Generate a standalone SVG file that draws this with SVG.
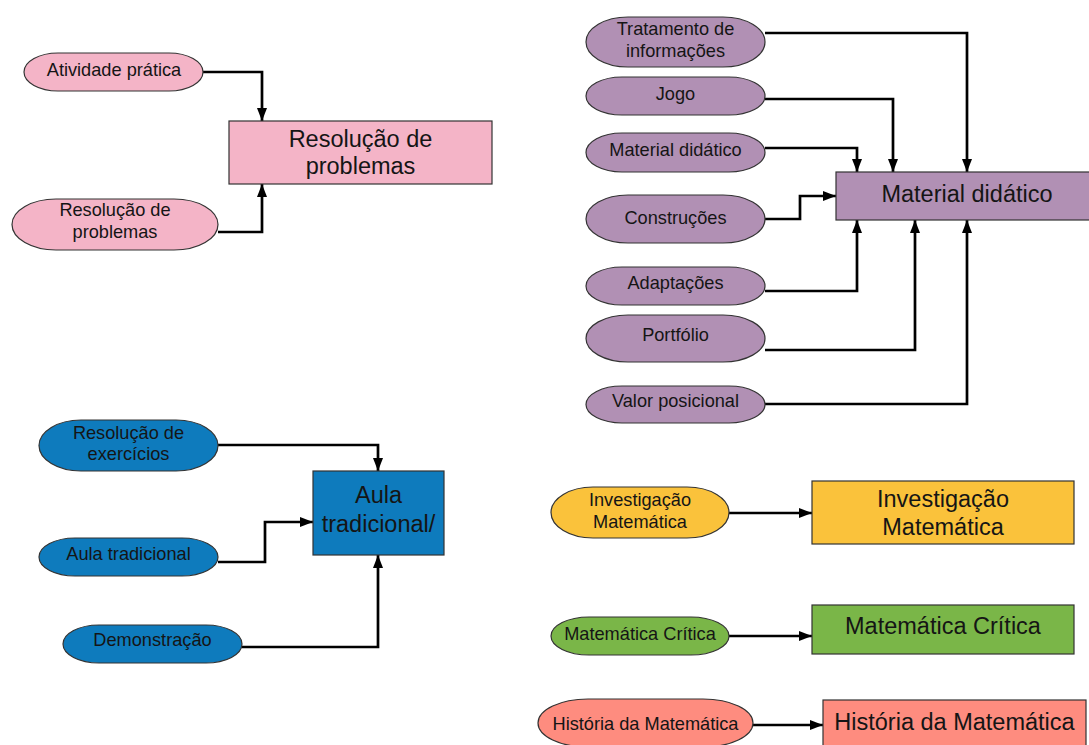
<svg xmlns="http://www.w3.org/2000/svg" width="1089" height="745" viewBox="0 0 1089 745">
  <style>
    .term { stroke: #333333; stroke-width: 1.2; }
    .box { stroke: #333333; stroke-width: 1.2; }
    .pink { fill: #F4B4C7; }
    .purple { fill: #B190B4; }
    .blue { fill: #0E7BBD; }
    .yellow { fill: #FAC23B; }
    .green { fill: #7AB648; }
    .salmon { fill: #FE8C7F; }
    text { font-family: "Liberation Sans", Arial, sans-serif; fill: #151515; text-anchor: middle; }
    .small { font-size: 18.2px; }
    .big { font-size: 23.5px; }
    .edge { fill: none; stroke: #000000; stroke-width: 2.7; marker-end: url(#arrow); }
  </style>
  <defs>
    <marker id="arrow" markerUnits="userSpaceOnUse" markerWidth="14" markerHeight="11" refX="13" refY="5.5" orient="auto">
      <path d="M0,0.5 L13,5.5 L0,10.5 z" fill="#000000"/>
    </marker>
  </defs>

  <rect width="1089" height="745" fill="#FFFFFF"/>

  <!-- connectors -->
  <g id="connectors">
    <path class="edge" d="M203,72 H262 V121"/>
    <path class="edge" d="M218,232 H262 V184"/>

    <path class="edge" d="M765,33 H967 V172"/>
    <path class="edge" d="M765,99 H893 V172"/>
    <path class="edge" d="M765,148 H857 V172"/>
    <path class="edge" d="M765,219 H800 V196 H836"/>
    <path class="edge" d="M765,291 H857 V220"/>
    <path class="edge" d="M765,350 H915 V220"/>
    <path class="edge" d="M765,404 H967 V220"/>

    <path class="edge" d="M218,445 H378 V471"/>
    <path class="edge" d="M218,562 H265 V522 H313"/>
    <path class="edge" d="M242,647 H378 V555"/>

    <path class="edge" d="M729,513 H812"/>
    <path class="edge" d="M729,636 H812"/>
    <path class="edge" d="M753,725 H823"/>
  </g>

  <!-- problem solving cluster -->
  <g id="atividade-pratica">
    <rect class="term pink" x="24" y="53" width="179" height="38" rx="34" ry="19"/>
    <text class="small" x="114" y="75.5">Atividade prática</text>
  </g>
  <g id="resolucao-problemas-in">
    <rect class="term pink" x="12" y="199" width="206" height="51" rx="44" ry="25.5"/>
    <text class="small" x="115" y="216">Resolução de</text>
    <text class="small" x="115" y="238">problemas</text>
  </g>
  <g id="resolucao-problemas">
    <rect class="box pink" x="229" y="121" width="263" height="63"/>
    <text class="big" x="360.5" y="147">Resolução de</text>
    <text class="big" x="360.5" y="174">problemas</text>
  </g>

  <!-- teaching material cluster -->
  <g id="tratamento-informacoes">
    <rect class="term purple" x="586" y="17" width="179" height="50" rx="42" ry="25"/>
    <text class="small" x="675.5" y="35">Tratamento de</text>
    <text class="small" x="675.5" y="57">informações</text>
  </g>
  <g id="jogo">
    <rect class="term purple" x="586" y="77" width="179" height="38" rx="36" ry="19"/>
    <text class="small" x="675.5" y="100">Jogo</text>
  </g>
  <g id="material-didatico-in">
    <rect class="term purple" x="586" y="133" width="179" height="39" rx="36" ry="19.5"/>
    <text class="small" x="675.5" y="156">Material didático</text>
  </g>
  <g id="construcoes">
    <rect class="term purple" x="586" y="195" width="179" height="48" rx="42" ry="24"/>
    <text class="small" x="675.5" y="224">Construções</text>
  </g>
  <g id="adaptacoes">
    <rect class="term purple" x="586" y="267" width="179" height="38" rx="36" ry="19"/>
    <text class="small" x="675.5" y="289">Adaptações</text>
  </g>
  <g id="portfolio">
    <rect class="term purple" x="586" y="315" width="179" height="47" rx="42" ry="23.5"/>
    <text class="small" x="675.5" y="341">Portfólio</text>
  </g>
  <g id="valor-posicional">
    <rect class="term purple" x="586" y="386" width="179" height="37" rx="36" ry="18.5"/>
    <text class="small" x="675.5" y="407">Valor posicional</text>
  </g>
  <g id="material-didatico">
    <rect class="box purple" x="836" y="172" width="262" height="48"/>
    <text class="big" x="967" y="202">Material didático</text>
  </g>

  <!-- traditional class cluster -->
  <g id="resolucao-exercicios">
    <rect class="term blue" x="39" y="420" width="179" height="51" rx="42" ry="25.5"/>
    <text class="small" x="128.5" y="439">Resolução de</text>
    <text class="small" x="128.5" y="460">exercícios</text>
  </g>
  <g id="aula-tradicional-in">
    <rect class="term blue" x="39" y="538" width="179" height="38" rx="36" ry="19"/>
    <text class="small" x="128.5" y="559.5">Aula tradicional</text>
  </g>
  <g id="demonstracao">
    <rect class="term blue" x="63" y="625" width="179" height="38" rx="36" ry="19"/>
    <text class="small" x="152.5" y="646">Demonstração</text>
  </g>
  <g id="aula-tradicional">
    <rect class="box blue" x="313" y="471" width="131" height="84"/>
    <text class="big" x="378.5" y="503">Aula</text>
    <text class="big" x="378.5" y="532">tradicional/</text>
  </g>

  <!-- single-link pairs -->
  <g id="investigacao-in">
    <rect class="term yellow" x="551" y="487" width="178" height="51" rx="42" ry="25.5"/>
    <text class="small" x="640" y="506">Investigação</text>
    <text class="small" x="640" y="528">Matemática</text>
  </g>
  <g id="investigacao">
    <rect class="box yellow" x="812" y="481" width="262" height="63"/>
    <text class="big" x="943" y="507">Investigação</text>
    <text class="big" x="943" y="535">Matemática</text>
  </g>

  <g id="critica-in">
    <rect class="term green" x="551" y="617" width="178" height="38" rx="38" ry="19"/>
    <text class="small" x="640" y="640">Matemática Crítica</text>
  </g>
  <g id="critica">
    <rect class="box green" x="812" y="605" width="262" height="49"/>
    <text class="big" x="943" y="634">Matemática Crítica</text>
  </g>

  <g id="historia-in">
    <rect class="term salmon" x="538" y="699" width="215" height="48" rx="50" ry="24"/>
    <text class="small" x="645.5" y="730">História da Matemática</text>
  </g>
  <g id="historia">
    <rect class="box salmon" x="823" y="700" width="263" height="55"/>
    <text class="big" x="954.5" y="730">História da Matemática</text>
  </g>
</svg>
